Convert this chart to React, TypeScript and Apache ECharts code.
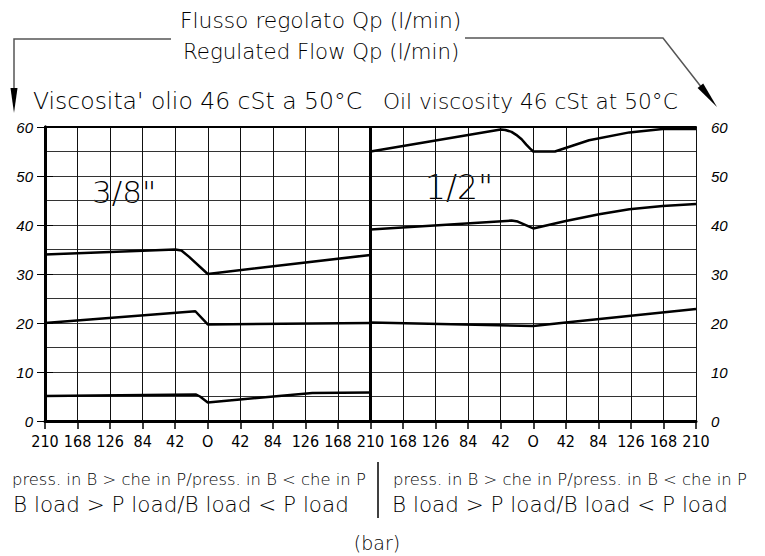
import React, { useEffect, useRef } from "react";
import * as echarts from "echarts";

// pressure (bar) on each half: negative = B > P side (left half), positive = B < P side
const xTickLabels = ["210", "168", "126", "84", "42", "O", "42", "84", "126", "168", "210"];
const yTicks = [0, 10, 20, 30, 40, 50, 60];

// 3/8" panel
const leftTop = [[-210, 34.0], [-42, 35.0], [-34, 34.8], [-24, 33.5], [0, 30.0], [210, 33.9]];
const leftMid = [[-210, 20.0], [-16, 22.4], [0, 19.7], [210, 20.0]];
const leftLow = [[-210, 5.1], [-15, 5.4], [-10, 5.0], [0, 3.8], [135, 5.7], [210, 5.8]];
// 1/2" panel
const rightTop = [[-210, 55.0], [-42, 59.5], [-36, 59.4], [-28, 59.0], [-22, 58.4], [-15, 57.5], [-9, 56.4], [-4, 55.6], [0, 55.0], [28, 55.0], [72, 57.3], [124, 58.9], [167, 59.6], [210, 59.6]];
const rightMid = [[-210, 39.1], [-28, 40.9], [-20, 40.7], [0, 39.3], [42, 40.8], [85, 42.2], [124, 43.2], [167, 43.9], [210, 44.3]];
const rightLow = [[-210, 20.1], [0, 19.4], [42, 20.1], [210, 22.85]];

const FONT = "'DejaVu Sans', sans-serif";
const NARROW = "'Liberation Sans Narrow', 'DejaVu Sans Condensed', 'DejaVu Sans', sans-serif";
const ITALIC = "'Liberation Sans', Arial, sans-serif";

const shift = (pts: number[][], off: number) => pts.map(([p, q]) => [p + off, q]);

function txt(text: string, x: number, y: number, size: number, family = FONT, align = "left") {
  return {
    type: "text",
    silent: true,
    style: {
      text, x, y, fill: "#000", fontSize: size, fontFamily: family, fontWeight: 200,
      align, verticalAlign: "middle", textAlign: align, textVerticalAlign: "middle",
    },
  };
}

export default function App() {
  const ref = useRef<HTMLDivElement>(null);
  useEffect(() => {
    if (!ref.current) return;
    const chart = echarts.init(ref.current, undefined, { renderer: "svg" });
    const line = (data: number[][], extra: any = {}) => ({
      type: "line", data, showSymbol: false, silent: true, smooth: false,
      lineStyle: { color: "#000", width: 2.5 }, itemStyle: { color: "#000" }, z: 5, ...extra,
    });
    chart.setOption({
      animation: false,
      backgroundColor: "#fff",
      grid: { left: 45, right: 69, top: 127, bottom: 135 },
      xAxis: [
        {
          type: "value", min: 0, max: 840, interval: 42, position: "bottom",
          axisLine: { show: true, lineStyle: { color: "#000", width: 3 } },
          axisTick: { show: true, length: 8, lineStyle: { color: "#000", width: 1.5 } },
          splitLine: { show: true, lineStyle: { color: "#111", width: 1 } },
          axisLabel: {
            margin: 12, fontSize: 16, color: "#000", fontFamily: NARROW,
            formatter: (v: number) => xTickLabels[Math.round((v % 420) / 42)] ?? (v === 840 ? "210" : ""),
          },
        },
        {
          type: "value", min: 0, max: 840, position: "top",
          axisLine: { show: true, onZero: false, lineStyle: { color: "#000", width: 2 } },
          axisTick: { show: false }, axisLabel: { show: false }, splitLine: { show: false },
        },
      ],
      yAxis: [
        {
          type: "value", min: 0, max: 60, interval: 10, position: "left",
          axisLine: { show: true, lineStyle: { color: "#000", width: 3 } },
          axisTick: { show: true, length: 8, lineStyle: { color: "#000", width: 1 } },
          axisLabel: {
            show: true, fontStyle: "italic", fontWeight: "normal", fontSize: 15, color: "#000",
            fontFamily: ITALIC, margin: 12,
            formatter: (v: number) => (yTicks.includes(v) ? String(v) : ""),
          },
          splitLine: { show: false },
        },
        {
          type: "value", min: 0, max: 60, interval: 10, position: "right",
          axisLine: { show: true, lineStyle: { color: "#000", width: 3 } },
          axisTick: { show: true, length: 8, lineStyle: { color: "#000", width: 1 } },
          axisLabel: {
            show: true, fontStyle: "italic", fontWeight: "normal", fontSize: 15, color: "#000",
            fontFamily: ITALIC, margin: 15,
          },
          splitLine: { show: false },
        },
        {
          type: "value", min: 0, max: 60, interval: 5, position: "left",
          axisLine: { show: false }, axisTick: { show: false }, axisLabel: { show: false },
          splitLine: { show: true, lineStyle: { color: "#333", width: 1 } },
        },
      ],
      series: [
        line(shift(leftTop, 210), {
          markLine: {
            silent: true, symbol: ["none", "none"], label: { show: false },
            lineStyle: { color: "#000", width: 3, type: "solid" },
            data: [{ xAxis: 420 }],
          },
        }),
        line(shift(leftMid, 210)),
        line(shift(leftLow, 210)),
        line(shift(rightTop, 630)),
        line(shift(rightMid, 630)),
        line(shift(rightLow, 630)),
      ],
      graphic: [
        { type: "polyline", silent: true, shape: { points: [[171, 39], [14, 39], [14, 95]] }, style: { stroke: "#555", lineWidth: 1.5, fill: null } },
        { type: "polygon", silent: true, shape: { points: [[10.5, 88], [17.5, 88], [14, 113]] }, style: { fill: "#000" } },
        { type: "polyline", silent: true, shape: { points: [[465, 38], [663, 38], [702, 88]] }, style: { stroke: "#555", lineWidth: 1.5, fill: null } },
        { type: "polygon", silent: true, shape: { points: [[697.6, 87.9], [703.2, 83.5], [717, 107]] }, style: { fill: "#000" } },
        txt("Flusso regolato Qp (l/min)", 180, 20, 21.8),
        txt("Regulated Flow Qp (l/min)", 183, 51, 21.3),
        txt("Viscosita' olio 46 cSt a 50°C", 33, 101, 23.5),
        txt("Oil viscosity 46 cSt at 50°C", 383, 101, 21.7),
        txt('3/8"', 92, 192, 31),
        txt('1/2"', 425, 187, 33),
        txt("press. in B > che in P/press. in B < che in P", 12, 479, 16.4),
        txt("press. in B > che in P/press. in B < che in P", 393, 479, 16.4),
        txt("B load > P load/B load < P load", 13, 504, 21.5),
        txt("B load > P load/B load < P load", 392, 504, 21.5),
        { type: "line", silent: true, shape: { x1: 378, y1: 462, x2: 378, y2: 518 }, style: { stroke: "#000", lineWidth: 1.5 } },
        txt("(bar)", 377, 543, 19, FONT, "center"),
      ],
    });
    return () => chart.dispose();
  }, []);
  return <div ref={ref} style={{ position: "fixed", left: 0, top: 0, width: 765, height: 556, background: "#fff" }} />;
}
